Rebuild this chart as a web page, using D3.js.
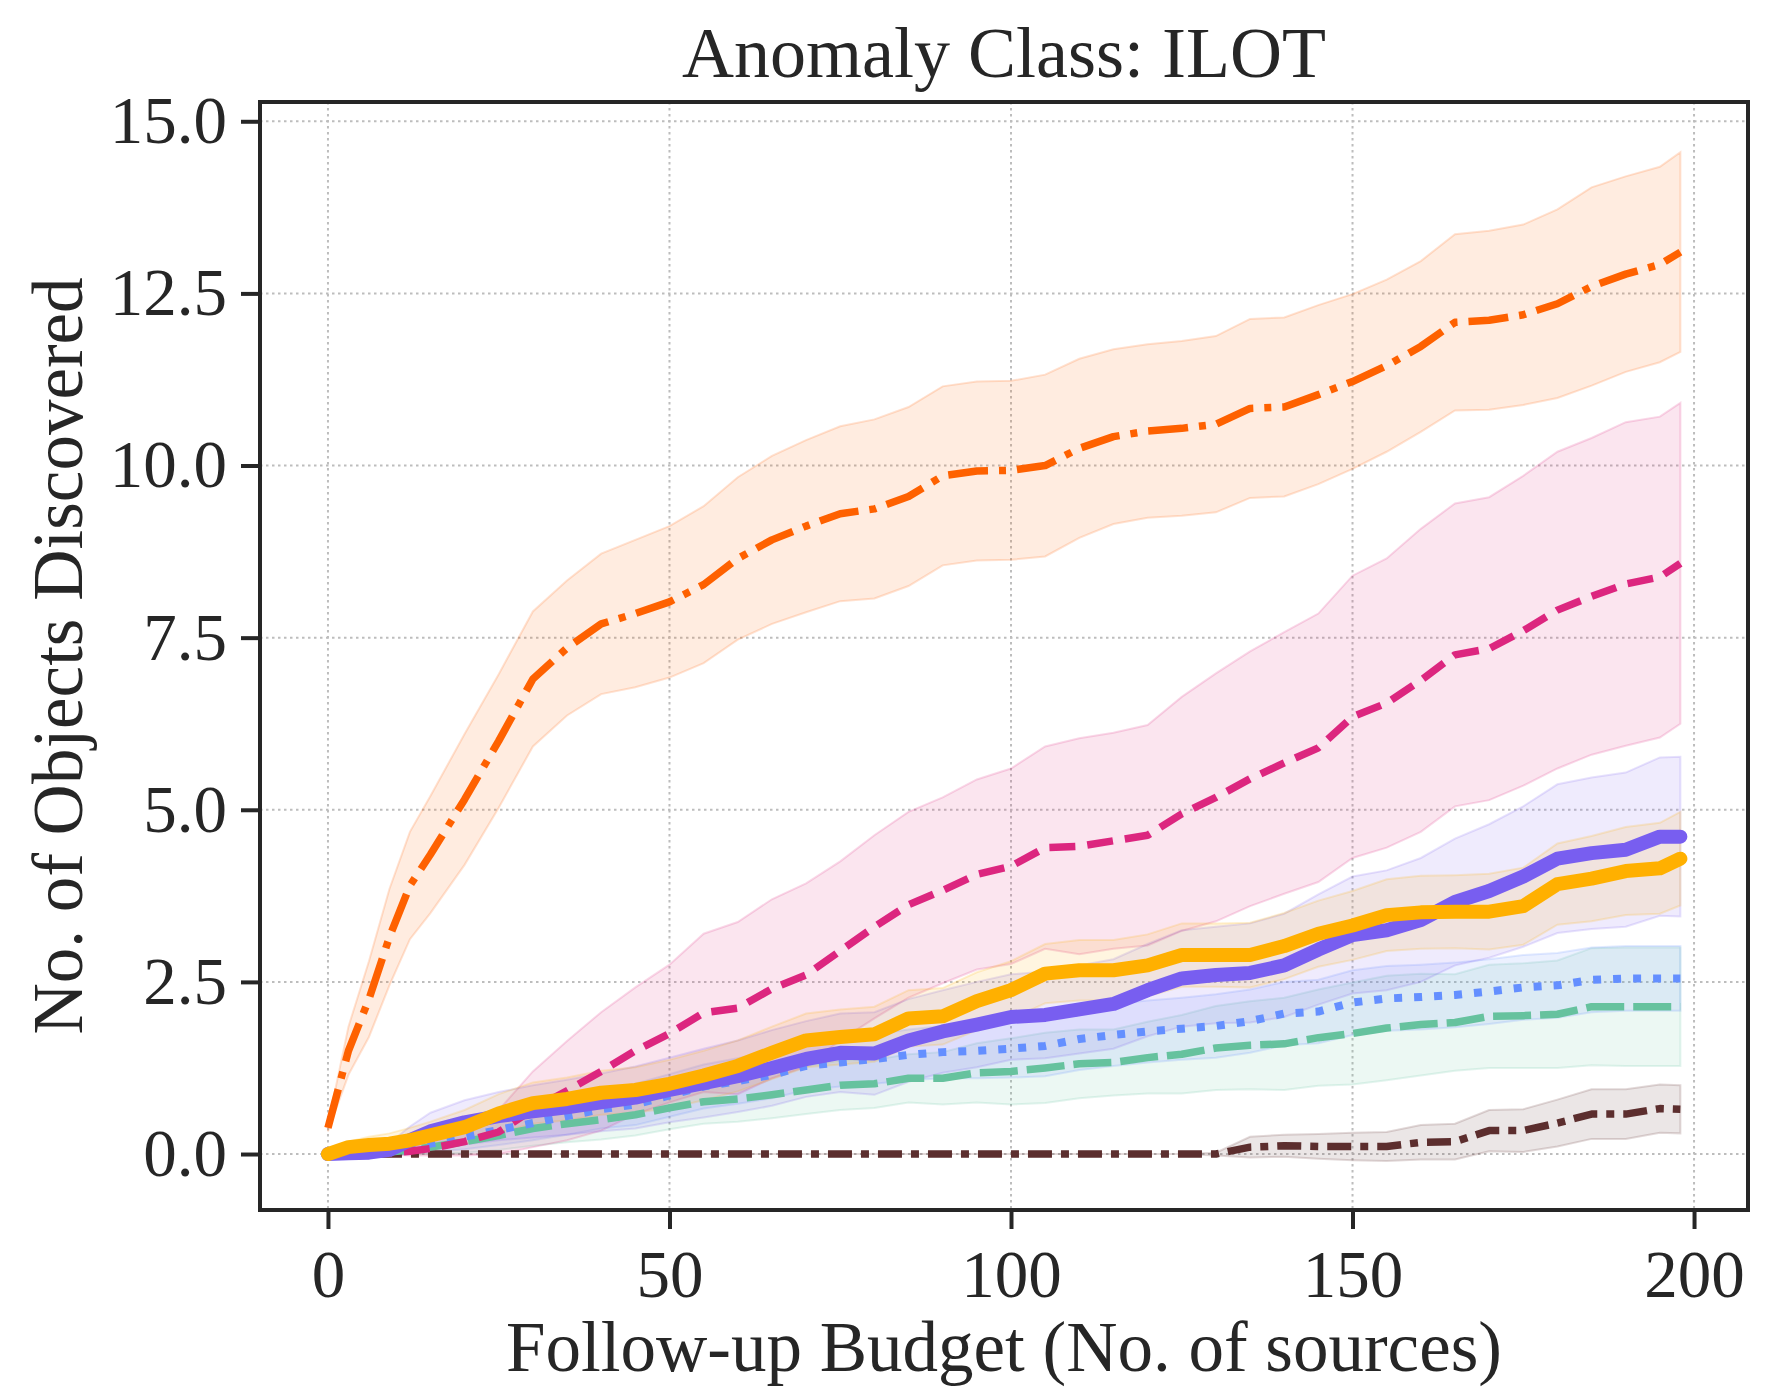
<!DOCTYPE html>
<html>
<head>
<meta charset="utf-8">
<script src="https://cdn.jsdelivr.net/npm/d3@7"></script>
<style>
  body { margin: 0; background: #ffffff; }
  text { font-family: "Liberation Serif", "DejaVu Serif", serif; fill: #262626; }
</style>
</head>
<body>
<script>
var budget = [0,3,6,9,12,15,20,25,30,35,40,45,50,55,60,65,70,75,80,85,90,95,100,105,110,115,120,125,130,135,140,145,150,155,160,165,170,175,180,185,190,195,198];

// mean number discovered and spread, one pair per method
var orangeMean = [0.38,1.5,2.25,3.15,3.9,4.35, 5.15,6.0,6.9,7.35,7.7,7.85,8.02,8.27,8.65,8.92, 9.12,9.3,9.37,9.55,9.85,9.92,9.93,10.0,10.25,10.42, 10.5,10.54,10.6,10.83,10.85,11.03,11.22,11.45,11.73,12.08, 12.11,12.19,12.35,12.6,12.78,12.92,13.1];
var orangeStd = [0.05,0.35,0.55,0.7,0.78,0.85, 0.95,0.97,0.98,0.98,1.02,1.07,1.1,1.14,1.18,1.22, 1.25,1.27,1.3,1.3,1.3,1.3,1.3,1.32,1.3,1.27, 1.26,1.27,1.28,1.3,1.3,1.3,1.27,1.25,1.24,1.28, 1.3,1.31,1.37,1.44,1.42,1.42,1.45];

var pinkMean = [0,0,0,0.02,0.04,0.08, 0.18,0.32,0.65,0.92,1.2,1.5,1.75,2.05,2.12,2.4, 2.6,2.95,3.3,3.62,3.83,4.06,4.18,4.45,4.47,4.55, 4.63,4.94,5.18,5.45,5.68,5.9,6.35,6.55,6.88,7.25, 7.34,7.6,7.9,8.1,8.28,8.38,8.58];
var pinkStd = [0,0,0,0.03,0.06,0.1, 0.2,0.32,0.55,0.72,0.86,0.92,1.0,1.15,1.25,1.3, 1.33,1.3,1.33,1.35,1.35,1.38,1.42,1.47,1.57,1.57, 1.6,1.7,1.8,1.85,1.9,1.95,2.05,2.1,2.2,2.2, 2.2,2.25,2.3,2.3,2.35,2.33,2.33];

var purpleMean = [0,0.01,0.02,0.06,0.2,0.33, 0.46,0.55,0.62,0.68,0.75,0.82,0.93,1.03,1.13,1.25, 1.38,1.47,1.46,1.65,1.78,1.88,1.99,2.02,2.1,2.18, 2.38,2.55,2.6,2.63,2.74,2.97,3.18,3.25,3.4,3.66, 3.82,4.03,4.29,4.37,4.42,4.61,4.61];
var purpleStd = [0,0.02,0.05,0.1,0.2,0.27, 0.32,0.35,0.38,0.4,0.42,0.45,0.47,0.5,0.52,0.55, 0.55,0.57,0.6,0.6,0.6,0.62,0.62,0.63,0.64,0.65, 0.67,0.7,0.7,0.72,0.75,0.8,0.85,0.87,0.9,0.92, 0.97,1.02,1.08,1.1,1.12,1.15,1.16];

var goldMean = [0,0.1,0.13,0.15,0.2,0.27, 0.39,0.59,0.74,0.8,0.89,0.93,1.02,1.14,1.28,1.47, 1.65,1.7,1.74,1.97,2.0,2.22,2.38,2.62,2.67,2.67, 2.74,2.89,2.89,2.89,3.02,3.2,3.32,3.47,3.51,3.52, 3.52,3.6,3.92,4.0,4.11,4.15,4.29];
var goldStd = [0,0.08,0.12,0.15,0.18,0.2, 0.25,0.28,0.3,0.31,0.32,0.33,0.35,0.36,0.37,0.38, 0.39,0.4,0.4,0.41,0.41,0.42,0.42,0.43,0.44,0.44, 0.45,0.46,0.46,0.47,0.48,0.48,0.5,0.52,0.53,0.53, 0.55,0.56,0.59,0.62,0.64,0.66,0.68];

var blueMean = [0,0,0.02,0.05,0.1,0.15, 0.25,0.35,0.45,0.55,0.65,0.72,0.85,0.98,1.06,1.15, 1.28,1.33,1.38,1.44,1.48,1.5,1.53,1.57,1.67,1.73, 1.78,1.82,1.86,1.93,2.04,2.07,2.2,2.26,2.28,2.31, 2.36,2.42,2.45,2.53,2.55,2.55,2.55];
var blueStd = [0,0,0.02,0.05,0.08,0.12, 0.18,0.22,0.25,0.27,0.28,0.3,0.31,0.32,0.33,0.34, 0.35,0.35,0.36,0.37,0.38,0.4,0.42,0.44,0.45,0.45, 0.45,0.45,0.46,0.46,0.46,0.46,0.47,0.47,0.47,0.47, 0.47,0.47,0.47,0.47,0.47,0.47,0.47];

var greenMean = [0,0,0.01,0.03,0.06,0.1, 0.18,0.27,0.37,0.44,0.5,0.57,0.67,0.76,0.8,0.86, 0.93,1.0,1.02,1.1,1.1,1.18,1.2,1.25,1.31,1.33, 1.4,1.45,1.54,1.58,1.6,1.69,1.75,1.83,1.88,1.91, 2.0,2.01,2.03,2.14,2.14,2.14,2.14];
var greenStd = [0,0,0.01,0.03,0.06,0.1, 0.16,0.21,0.25,0.27,0.29,0.3,0.31,0.32,0.33,0.34, 0.35,0.36,0.35,0.35,0.38,0.43,0.48,0.51,0.5,0.48, 0.52,0.57,0.61,0.64,0.67,0.7,0.74,0.76,0.74,0.7, 0.75,0.76,0.78,0.85,0.86,0.86,0.86];

var brownMean = [0,0,0,0,0,0, 0,0,0,0,0,0,0,0,0,0, 0,0,0,0,0,0,0,0,0,0, 0,0,0,0.1,0.12,0.11,0.11,0.11,0.17,0.18, 0.34,0.34,0.45,0.58,0.58,0.66,0.65];
var brownStd = [0,0,0,0,0,0, 0,0,0,0,0,0,0,0,0,0, 0,0,0,0,0,0,0,0,0,0, 0,0,0.02,0.15,0.16,0.18,0.2,0.21,0.25,0.26, 0.3,0.31,0.34,0.36,0.36,0.35,0.35];

var xTicks = [0, 50, 100, 150, 200];
var yTicks = [0, 2.5, 5, 7.5, 10, 12.5, 15];

var width = 1778, height = 1388;
var box = {left: 260, right: 1748, top: 102, bottom: 1210};

var svg = d3.select("body").append("svg")
    .attr("width", width)
    .attr("height", height);

var x = d3.scaleLinear().domain([-9.95, 207.9]).range([box.left, box.right]);
var y = d3.scaleLinear().domain([-0.813, 15.28]).range([box.bottom, box.top]);

// grid
var grid = svg.append("g");
grid.selectAll(".gx").data(xTicks).enter().append("line")
    .attr("x1", d => x(d)).attr("x2", d => x(d))
    .attr("y1", box.top).attr("y2", box.bottom)
    .attr("stroke", "#bdbdbd").attr("stroke-width", 2).attr("stroke-dasharray", "2.5,3.5");
grid.selectAll(".gy").data(yTicks).enter().append("line")
    .attr("x1", box.left).attr("x2", box.right)
    .attr("y1", d => y(d)).attr("y2", d => y(d))
    .attr("stroke", "#bdbdbd").attr("stroke-width", 2).attr("stroke-dasharray", "2.5,3.5");

svg.append("clipPath").attr("id", "plot")
  .append("rect")
    .attr("x", box.left).attr("y", box.top)
    .attr("width", box.right - box.left).attr("height", box.bottom - box.top);

var series = [
  {mean: brownMean,  std: brownStd,  color: "#5c2e2e", w: 7.5, dash: "24,9,8,9",    cap: "butt"},
  {mean: greenMean,  std: greenStd,  color: "#66c29e", w: 7.5, dash: "38,9",        cap: "butt"},
  {mean: blueMean,   std: blueStd,   color: "#648fff", w: 8,   dash: "8,12",        cap: "butt"},
  {mean: pinkMean,   std: pinkStd,   color: "#dc267f", w: 7.5, dash: "26,12",       cap: "butt"},
  {mean: orangeMean, std: orangeStd, color: "#fe6100", w: 7.5, dash: "40,11,7,11",  cap: "butt"},
  {mean: purpleMean, std: purpleStd, color: "#785ef0", w: 14,  dash: null,          cap: "round"},
  {mean: goldMean,   std: goldStd,   color: "#ffb000", w: 14,  dash: null,          cap: "round"}
];

var plot = svg.append("g").attr("clip-path", "url(#plot)");

var area = d3.area()
    .x((d, i) => x(budget[i]))
    .y0(d => y(d[0] - d[1]))
    .y1(d => y(d[0] + d[1]));

var line = d3.line()
    .x((d, i) => x(budget[i]))
    .y(d => y(d));

series.forEach(function(s) {
  var pairs = s.mean.map((m, i) => [m, s.std[i]]);
  plot.append("path")
      .attr("d", area(pairs))
      .attr("fill", s.color).attr("fill-opacity", 0.12)
      .attr("stroke", s.color).attr("stroke-opacity", 0.18).attr("stroke-width", 2);
});

series.forEach(function(s) {
  plot.append("path")
      .attr("d", line(s.mean))
      .attr("fill", "none")
      .attr("stroke", s.color)
      .attr("stroke-width", s.w)
      .attr("stroke-linecap", s.cap)
      .attr("stroke-linejoin", "round")
      .attr("stroke-dasharray", s.dash);
});

// axes
var xAxis = svg.append("g")
    .attr("transform", "translate(0," + box.bottom + ")")
    .call(d3.axisBottom(x).tickValues(xTicks).tickFormat(d3.format("d")).tickSize(19).tickPadding(20));
var yAxis = svg.append("g")
    .attr("transform", "translate(" + box.left + ",0)")
    .call(d3.axisLeft(y).tickValues(yTicks).tickFormat(d3.format(".1f")).tickSize(19).tickPadding(14));

[xAxis, yAxis].forEach(function(a) {
  a.select(".domain").remove();
  a.selectAll(".tick line").attr("stroke", "#262626").attr("stroke-width", 4);
  a.selectAll(".tick text")
      .attr("fill", "#262626")
      .style("font-family", "'Liberation Serif', 'DejaVu Serif', serif")
      .style("font-size", "67px");
});

svg.append("rect")
    .attr("x", box.left).attr("y", box.top)
    .attr("width", box.right - box.left).attr("height", box.bottom - box.top)
    .attr("fill", "none").attr("stroke", "#262626").attr("stroke-width", 4);

// titles
svg.append("text")
    .attr("x", (box.left + box.right) / 2).attr("y", 77)
    .attr("text-anchor", "middle")
    .style("font-size", "72px")
    .text("Anomaly Class: ILOT");

svg.append("text")
    .attr("x", (box.left + box.right) / 2).attr("y", 1371)
    .attr("text-anchor", "middle")
    .style("font-size", "71px")
    .text("Follow-up Budget (No. of sources)");

svg.append("text")
    .attr("transform", "translate(82," + (box.top + box.bottom) / 2 + ") rotate(-90)")
    .attr("text-anchor", "middle")
    .style("font-size", "71px")
    .text("No. of Objects Discovered");
</script>
</body>
</html>
